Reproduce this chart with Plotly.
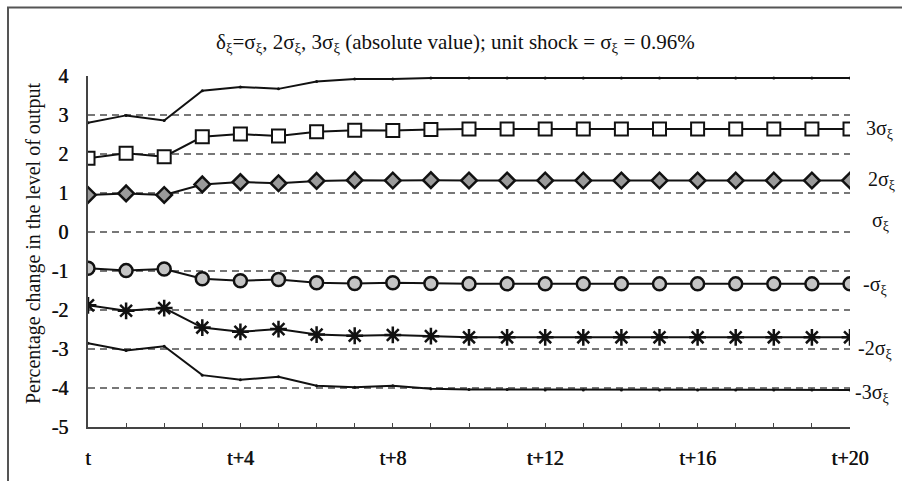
import plotly.graph_objects as go

periods = list(range(21))
label_periods = [0, 4, 8, 12, 16, 20]
x_ticktext = ["t" if i == 0 else "t+%d" % i for i in label_periods]
y_ticks = [-5, -4, -3, -2, -1, 0, 1, 2, 3, 4]
y_ticktext = ["%d" % v for v in y_ticks]

pos3 = [2.80, 2.99, 2.86, 3.62, 3.72, 3.67, 3.86, 3.92, 3.92, 3.95, 3.95, 3.95, 3.95, 3.95, 3.95, 3.95, 3.95, 3.95, 3.95, 3.95, 3.95]
pos2 = [1.89, 2.02, 1.93, 2.44, 2.51, 2.46, 2.57, 2.61, 2.60, 2.63, 2.64, 2.64, 2.64, 2.64, 2.64, 2.64, 2.64, 2.64, 2.64, 2.64, 2.64]
pos1 = [0.95, 0.99, 0.95, 1.22, 1.28, 1.25, 1.31, 1.33, 1.32, 1.33, 1.32, 1.32, 1.32, 1.32, 1.32, 1.32, 1.32, 1.32, 1.32, 1.32, 1.32]
neg1 = [-0.93, -0.99, -0.95, -1.20, -1.25, -1.22, -1.30, -1.32, -1.30, -1.32, -1.33, -1.33, -1.33, -1.33, -1.33, -1.33, -1.33, -1.33, -1.33, -1.33, -1.33]
neg2 = [-1.88, -2.02, -1.95, -2.45, -2.56, -2.49, -2.63, -2.66, -2.64, -2.67, -2.70, -2.70, -2.70, -2.70, -2.70, -2.70, -2.70, -2.70, -2.70, -2.70, -2.70]
neg3 = [-2.85, -3.04, -2.93, -3.67, -3.79, -3.71, -3.94, -3.98, -3.94, -4.02, -4.04, -4.04, -4.05, -4.05, -4.05, -4.05, -4.05, -4.05, -4.05, -4.05, -4.05]

right_labels = ["3σ<sub>ξ</sub>", "2σ<sub>ξ</sub>", "σ<sub>ξ</sub>", "-σ<sub>ξ</sub>", "-2σ<sub>ξ</sub>", "-3σ<sub>ξ</sub>"]
right_label_y = [2.63, 1.33, 0.26, -1.38, -3.0, -4.13]
right_label_px = [864, 866, 870, 861, 856, 853]

title_text = ("δ<sub>ξ</sub>=σ<sub>ξ</sub>, 2σ<sub>ξ</sub>, 3σ<sub>ξ</sub> (absolute value); "
              "unit shock = σ<sub>ξ</sub> = 0.96%")
ytitle = "Percentage change in the level of output"

FONT = "Liberation Serif"
INK = "#111111"
THICK = "0.6px 0px 0px #111111"

fig = go.Figure()

fig.add_trace(go.Scatter(x=periods, y=pos3, mode="lines+markers",
                         line=dict(color=INK, width=2),
                         marker=dict(symbol="circle", size=3, color=INK)))
fig.add_trace(go.Scatter(x=periods, y=pos2, mode="lines+markers",
                         line=dict(color=INK, width=2),
                         marker=dict(symbol="square", size=13, color="white",
                                     line=dict(color=INK, width=2))))
fig.add_trace(go.Scatter(x=periods, y=pos1, mode="lines+markers",
                         line=dict(color=INK, width=2),
                         marker=dict(symbol="diamond", size=12, color="#9a9a9a",
                                     line=dict(color=INK, width=2.5))))
fig.add_trace(go.Scatter(x=periods, y=neg1, mode="lines+markers",
                         line=dict(color=INK, width=2),
                         marker=dict(symbol="circle", size=13, color="#c4c4c4",
                                     line=dict(color=INK, width=2.5))))
fig.add_trace(go.Scatter(x=periods, y=neg2, mode="lines+markers",
                         line=dict(color=INK, width=2),
                         marker=dict(symbol="asterisk-open", size=14, color=INK,
                                     line=dict(color=INK, width=2.5))))
fig.add_trace(go.Scatter(x=periods, y=neg3, mode="lines+markers",
                         line=dict(color=INK, width=2),
                         marker=dict(symbol="circle", size=3, color=INK)))

L, R, T, B = 88, 52, 76, 52
W, H = 902, 481
pw, ph = W - L - R, H - T - B

def px_to_paper_x(px):
    return (px - L) / pw

def px_to_paper_y(py):
    return (H - B - py) / ph

annotations = []
for txt, yv, xp in zip(right_labels, right_label_y, right_label_px):
    annotations.append(dict(x=px_to_paper_x(xp), xref="paper", y=yv, yref="y",
                            text=txt, showarrow=False, xanchor="left", yanchor="middle",
                            font=dict(family=FONT, size=20, color=INK)))
annotations.append(dict(x=px_to_paper_x(455), xref="paper", y=px_to_paper_y(43), yref="paper",
                        text=title_text, showarrow=False, xanchor="center", yanchor="middle",
                        font=dict(family=FONT, size=21, color=INK)))
annotations.append(dict(x=px_to_paper_x(33), xref="paper", y=px_to_paper_y(245), yref="paper",
                        text=ytitle, showarrow=False, textangle=-90,
                        xanchor="center", yanchor="middle",
                        font=dict(family=FONT, size=20, color=INK)))

shapes = [dict(type="rect", xref="paper", yref="paper",
               x0=px_to_paper_x(8), x1=px_to_paper_x(910),
               y0=px_to_paper_y(490), y1=px_to_paper_y(7),
               line=dict(color="#555555", width=2), layer="below")]

fig.update_layout(
    width=W, height=H,
    margin=dict(l=L, r=R, t=T, b=B),
    paper_bgcolor="white", plot_bgcolor="white",
    showlegend=False,
    annotations=annotations,
    shapes=shapes,
    font=dict(family=FONT, color=INK),
)
fig.update_xaxes(range=[0, 20], tickvals=label_periods, ticktext=x_ticktext,
                 ticks="inside", ticklen=4, tickcolor="#444", tickwidth=1,
                 minor=dict(ticks="inside", dtick=1, tick0=0, ticklen=4, tickcolor="#444", tickwidth=1),
                 showgrid=False, zeroline=False, showline=True, linecolor="#444", linewidth=1.5,
                 tickfont=dict(family=FONT, size=20, color=INK, shadow=THICK),
                 ticklabelstandoff=12)
fig.update_yaxes(range=[-5, 4], tickvals=y_ticks, ticktext=y_ticktext,
                 showgrid=True, gridcolor="#777777", gridwidth=1.5, griddash="7px,5px",
                 zeroline=False, showline=True, linecolor="#444", linewidth=1.5,
                 ticks="", tickfont=dict(family=FONT, size=20, color=INK, shadow=THICK),
                 ticklabelstandoff=14)

fig.write_html("out.html")
